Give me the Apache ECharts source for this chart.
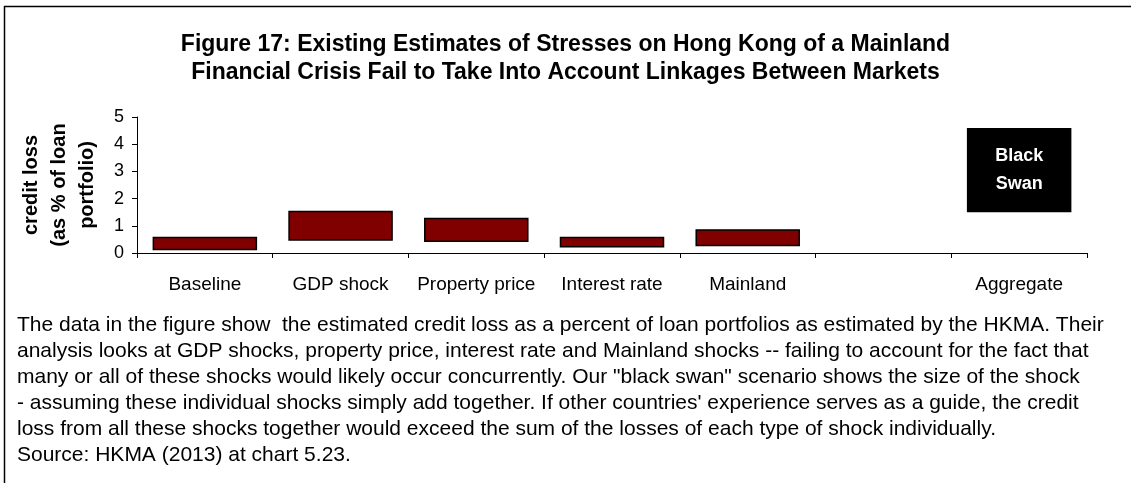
<!DOCTYPE html>
<html>
<head>
<meta charset="utf-8">
<script src="https://cdn.jsdelivr.net/npm/echarts@6/dist/echarts.min.js"></script>
<style>
html,body{margin:0;padding:0;background:#fff;}
#chart{width:1131px;height:483px;}
</style>
</head>
<body>
<div id="chart"></div>
<script>
// ---- data ----
const categories = ['Baseline', 'GDP shock', 'Property price', 'Interest rate', 'Mainland', '', 'Aggregate'];
const lows  = [0.1, 0.45, 0.4, 0.2, 0.25, null, 1.5];
const highs = [0.6, 1.55, 1.3, 0.6, 0.87, null, 4.6];
const yTicks = [0, 1, 2, 3, 4, 5];
const titleText = 'Figure 17: Existing Estimates of Stresses on Hong Kong of a Mainland\nFinancial Crisis Fail to Take Into Account Linkages Between Markets';
const yAxisName = 'credit loss\n(as % of loan\nportfolio)';
const blackSwanLabel = 'Black\nSwan';
const noteLines = [
  'The data in the figure show  the estimated credit loss as a percent of loan portfolios as estimated by the HKMA. Their',
  'analysis looks at GDP shocks, property price, interest rate and Mainland shocks -- failing to account for the fact that',
  'many or all of these shocks would likely occur concurrently. Our "black swan" scenario shows the size of the shock',
  '- assuming these individual shocks simply add together. If other countries\' experience serves as a guide, the credit',
  'loss from all these shocks together would exceed the sum of the losses of each type of shock individually.',
  'Source: HKMA (2013) at chart 5.23.'
];

const FONT = '"Liberation Sans", Arial, sans-serif';
const spans = highs.map((h, i) => (h == null ? null : +(h - lows[i]).toFixed(3)));
const spanData = spans.map((v, i) => {
  if (categories[i] === 'Aggregate') {
    return {
      value: v,
      itemStyle: { color: '#000000', borderColor: '#000000' },
      label: {
        show: true, position: 'inside', formatter: blackSwanLabel,
        color: '#ffffff', fontWeight: 'bold', fontSize: 18, lineHeight: 28, fontFamily: FONT
      }
    };
  }
  return v;
});

const chart = echarts.init(document.getElementById('chart'), null, { renderer: 'canvas' });
chart.setOption({
  backgroundColor: '#ffffff',
  animation: false,
  title: {
    text: titleText,
    left: 'center',
    top: 26,
    textStyle: { fontFamily: FONT, fontSize: 23, fontWeight: 'bold', color: '#000', lineHeight: 28 }
  },
  grid: { left: 137, right: 44, top: 117, bottom: 230, containLabel: false },
  xAxis: {
    type: 'category',
    data: categories,
    axisLine: { lineStyle: { color: '#000', width: 1 } },
    axisTick: { show: true, alignWithLabel: false, length: 5, inside: false, lineStyle: { color: '#000' } },
    axisLabel: { fontFamily: FONT, fontSize: 19, color: '#000', margin: 22, interval: 0 },
    splitLine: { show: false }
  },
  yAxis: {
    type: 'value',
    min: 0, max: 5, interval: 1,
    name: yAxisName,
    nameLocation: 'middle',
    nameRotate: 90,
    nameGap: 36,
    nameTextStyle: { fontFamily: FONT, fontSize: 20, fontWeight: 'bold', color: '#000', lineHeight: 28 },
    axisLine: { show: true, lineStyle: { color: '#000', width: 1 } },
    axisTick: { show: true, length: 5, lineStyle: { color: '#000' } },
    axisLabel: { fontFamily: FONT, fontSize: 18, color: '#000', margin: 13,
      formatter: v => (yTicks.indexOf(v) >= 0 ? String(v) : '') },
    splitLine: { show: false }
  },
  series: [
    {
      type: 'bar', stack: 'r', data: lows,
      itemStyle: { color: 'rgba(0,0,0,0)' }, barCategoryGap: '23%', silent: true
    },
    {
      type: 'bar', stack: 'r', data: spanData,
      itemStyle: { color: '#800000', borderColor: '#000', borderWidth: 1.5 },
      barCategoryGap: '23%'
    }
  ],
  graphic: [
    { type: 'line', shape: { x1: 4, y1: 6.5, x2: 1131, y2: 6.5 }, style: { stroke: '#000', lineWidth: 1.5 } },
    { type: 'line', shape: { x1: 4.5, y1: 6, x2: 4.5, y2: 483 }, style: { stroke: '#000', lineWidth: 1.5 } },
    {
      type: 'text', left: 17, top: 312,
      style: { text: noteLines.join('\n'), fontFamily: FONT, fontSize: 21, lineHeight: 26, fill: '#000' }
    }
  ]
});
</script>
</body>
</html>
